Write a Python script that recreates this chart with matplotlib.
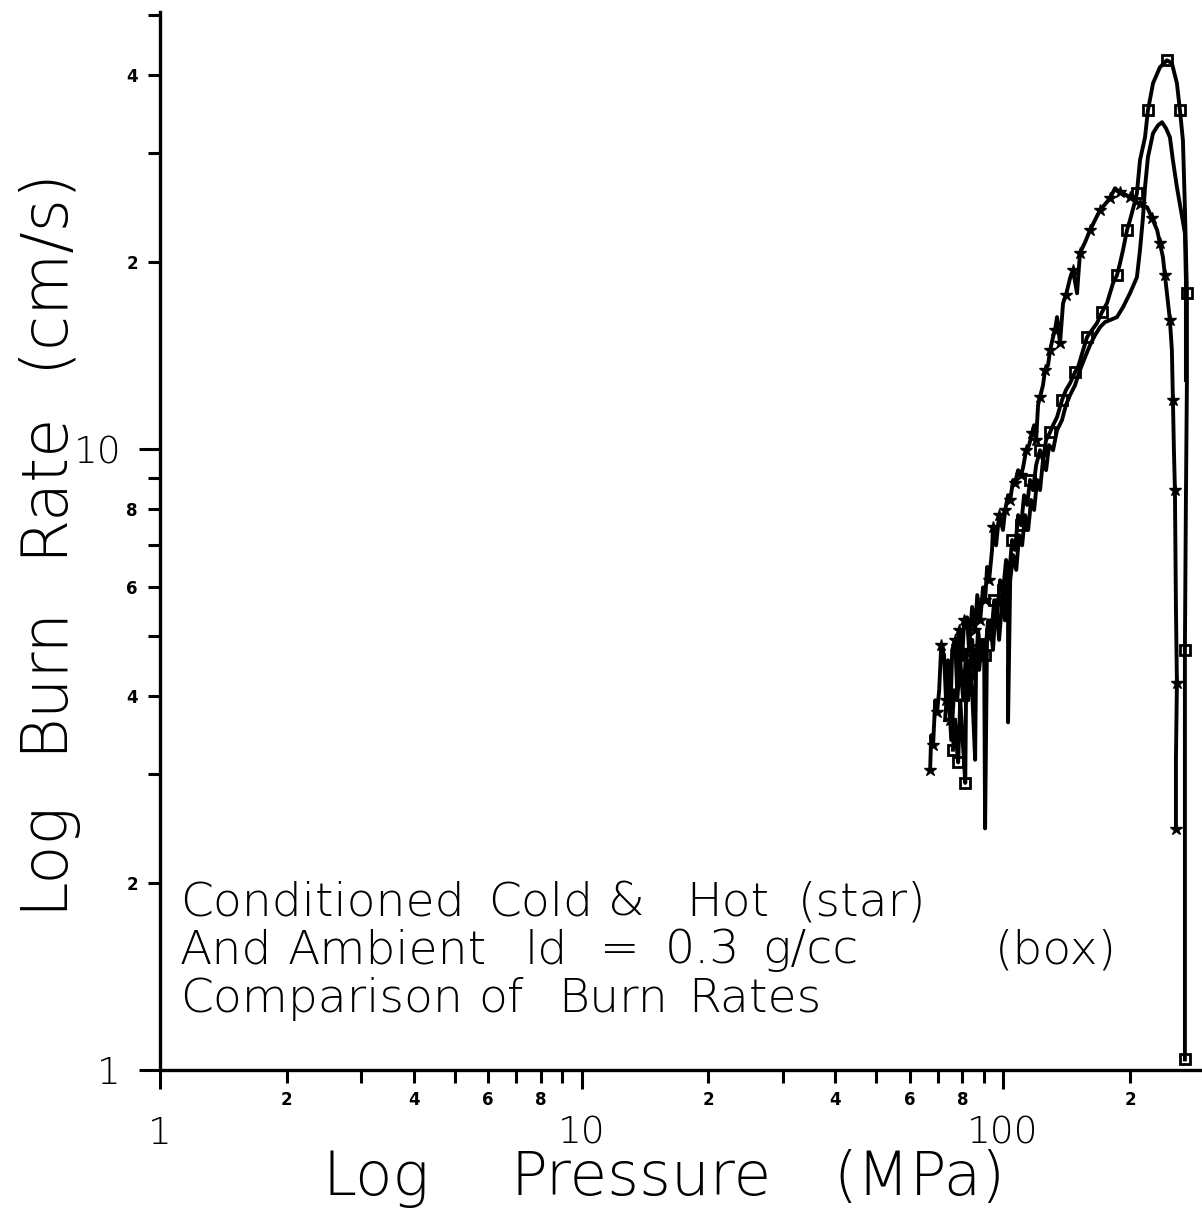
import matplotlib
matplotlib.use("Agg")
import matplotlib.pyplot as plt
from matplotlib.ticker import FixedLocator, FuncFormatter

# burn rate (cm/s) vs pressure (MPa)
# conditioned cold/hot charge, star markers
star_p = [67.1, 67.5, 68.2, 69.0, 69.7, 70.5, 71.3, 72.4, 73.2, 74.0, 74.9, 75.7, 76.9, 77.8,
          78.6, 79.9, 80.8, 82.1, 83.0, 84.4, 85.8, 86.8, 88.2, 89.6, 90.6, 91.6, 92.6, 94.1,
          94.6, 96.2, 97.8, 99.9, 101.1, 102.7, 103.9, 105.6, 106.7, 108.5, 110.3, 111.5, 113.4,
          115.2, 117.1, 118.4, 119.7, 121.0, 122.3, 124.3, 125.7, 127.8, 129.2, 131.3, 132.7,
          134.2, 136.4, 138.7, 140.9, 144.1, 146.4, 149.7, 152.1, 156.4, 160.7, 165.1, 169.7,
          174.4, 179.2, 184.2, 189.3, 194.5, 199.9, 205.4, 211.1, 219.5, 225.6, 231.9, 235.4,
          239.3, 241.9, 244.6, 248.6, 251.3, 252.7, 254.1, 255.5, 256.9, 258.3, 256.9, 256.9]
star_r = [3.04, 3.46, 3.34, 3.94, 3.77, 4.09, 4.83, 4.66, 3.94, 4.57, 3.66, 4.75, 4.93, 4.09,
          5.11, 4.57, 5.30, 5.36, 4.75, 5.57, 5.11, 5.82, 5.30, 5.99, 5.71, 6.46, 6.15, 6.88,
          7.49, 7.00, 7.83, 7.41, 7.98, 8.43, 8.28, 8.92, 8.82, 9.25, 9.08, 9.35, 9.96,
          10.15, 10.61, 10.93, 10.34, 11.78, 12.13, 12.68, 13.41, 13.66, 14.43, 15.15, 15.55,
          16.32, 14.82, 17.19, 17.70, 18.86, 19.42, 17.83, 20.69, 21.54, 22.52, 23.38, 24.26,
          24.80, 25.36, 26.32, 25.93, 25.74, 25.45, 25.18, 24.80, 24.53, 23.55, 22.52, 21.46,
          20.38, 19.06, 17.83, 16.14, 14.43, 12.00, 9.96, 8.59, 5.57, 4.20, 3.16, 2.44]

# ambient, ld = 0.3 g/cc, box markers
box_p = [76.0, 76.9, 77.8, 78.2, 79.1, 79.9, 81.3, 81.7, 82.6, 83.5, 84.4, 85.8, 86.3, 87.7,
         89.1, 90.6, 92.1, 93.6, 95.2, 96.7, 98.3, 100.0, 101.6, 103.3, 105.0, 106.7, 108.5,
         110.3, 112.1, 114.0, 115.8, 117.7, 119.7, 122.3, 124.3, 126.4, 129.2, 131.3, 134.2,
         137.9, 140.9, 144.1, 148.1, 150.5, 154.7, 158.1, 162.4, 166.9, 171.5, 176.3, 182.2,
         186.2, 189.3, 192.4, 196.6, 199.9, 204.3, 207.6, 211.1, 217.0, 220.5, 226.7, 235.4,
         244.6, 251.3, 258.3, 262.6, 266.9, 269.8, 272.8, 272.8, 271.3, 269.8, 269.8, 269.8, 269.8]
box_r = [3.28, 3.66, 3.25, 3.13, 3.94, 3.53, 2.90, 4.25, 3.94, 4.57, 4.09, 3.16, 4.75, 4.41,
         4.93, 4.66, 5.30, 4.93, 5.71, 5.40, 6.15, 5.93, 6.63, 6.27, 7.14, 6.88, 7.83,
         7.54, 8.43, 8.13, 8.92, 8.59, 9.42, 9.96, 9.60, 10.34, 10.65, 10.93, 11.26,
         12.00, 12.45, 12.77, 13.31, 13.55, 14.43, 15.15, 15.55, 15.96, 16.62, 17.19, 18.51,
         19.06, 19.93, 20.92, 22.52, 23.38, 24.71, 25.84, 29.20, 31.80, 35.14, 38.85, 41.22,
         42.31, 41.84, 38.85, 35.14, 31.45, 24.53, 17.83, 12.92, 8.28, 4.75, 2.72, 1.56, 1.04]

# plain trace (no markers)
line_p = [72.8, 74.0, 75.3, 76.5, 77.8, 79.1, 80.4, 81.7, 83.0, 84.4, 85.8, 87.2, 88.7, 90.1,
          90.6, 91.6, 93.1, 94.6, 96.2, 97.8, 99.9, 101.0, 102.7, 102.7, 103.9, 105.6, 107.4,
          109.1, 110.9, 112.7, 114.6, 116.5, 118.4, 120.4, 122.3, 124.3, 126.4, 128.5, 131.3,
          134.2, 137.9, 140.9, 144.1, 148.1, 152.1, 156.4, 160.7, 165.1, 169.7, 174.4, 179.2,
          186.2, 192.4, 199.9, 207.6, 211.1, 214.6, 217.0, 220.5, 226.7, 233.0, 238.1, 243.3,
          248.6, 252.7, 258.3, 264.8, 269.8, 271.3, 271.3]
line_r = [3.66, 4.25, 3.40, 4.09, 3.94, 4.57, 3.94, 4.75, 4.09, 4.93, 4.25, 5.11, 4.57, 4.93,
          2.45, 5.11, 5.30, 4.75, 5.71, 4.93, 5.93, 5.30, 6.39, 3.63, 6.15, 6.75, 6.39,
          7.27, 7.00, 7.83, 7.41, 8.28, 7.98, 8.92, 8.59, 9.60, 9.25, 10.15, 9.96,
          10.73, 11.14, 11.78, 12.22, 12.68, 13.41, 14.07, 14.71, 15.26, 15.72, 16.02, 16.14,
          16.32, 16.93, 17.83, 18.92, 20.92, 23.64, 26.42, 29.53, 32.28, 33.24, 33.62, 32.88,
          31.80, 29.20, 26.42, 23.99, 22.27, 18.72, 12.92]

x_major = [1, 10, 100]
x_minor = [2, 3, 4, 5, 6, 7, 8, 9, 20, 30, 40, 50, 60, 70, 80, 90, 200]
y_major = [1, 10]
y_minor = [2, 3, 4, 5, 6, 7, 8, 9, 20, 30, 40, 50]
labelled_minor = ["2", "4", "6", "8"]

# the old plotter spaced its words out, so each word gets its own spot (pixels)
xlabel_words = ["Log", "Pressure", "(MPa)"]
xlabel_x = [322, 510, 833]
ylabel_words = ["Log", "Burn", "Rate", "(cm/s)"]
ylabel_y = [910, 752, 556, 368]
note_lines = [["Conditioned", "Cold", "&", "Hot", "(star)"],
              ["And", "Ambient", "ld", "=", "0.3", "g/cc", "(box)"],
              ["Comparison", "of", "Burn", "Rates"]]
note_x = [[180, 488, 608, 686, 798],
          [180, 288, 525, 600, 665, 762, 995],
          [180, 478, 558, 688]]
note_base = [915, 963, 1012]

W, H = 1202, 1214
txt_font = ["DejaVu Sans"]

fig = plt.figure(figsize=(W / 100, H / 100), dpi=100)
ax = fig.add_axes([160 / W, 144 / H, 1040 / W, 1058 / H])

ax.plot(star_p, star_r, color="black", lw=2.8, marker="*", ms=9, markevery=2)
ax.plot(box_p, box_r, color="black", lw=2.8, marker="s", ms=7, mfc="none", mew=2,
        markevery=3)
ax.plot(line_p, line_r, color="black", lw=2.8)

ax.set_xscale("log")
ax.set_yscale("log")
ax.set_xlim(1, 293)
ax.set_ylim(1, 50.6)

for s in ["top", "right"]:
    ax.spines[s].set_visible(False)
for s in ["left", "bottom"]:
    ax.spines[s].set_linewidth(2.4)


def minor_fmt(v, pos):
    s = "%g" % v
    return s[0] if s[0] in labelled_minor else ""


ax.xaxis.set_major_locator(FixedLocator(x_major))
ax.xaxis.set_minor_locator(FixedLocator(x_minor))
ax.yaxis.set_major_locator(FixedLocator(y_major))
ax.yaxis.set_minor_locator(FixedLocator(y_minor))
ax.xaxis.set_major_formatter(FuncFormatter(lambda v, p: "%g" % v))
ax.yaxis.set_major_formatter(FuncFormatter(lambda v, p: "%g" % v))
ax.xaxis.set_minor_formatter(FuncFormatter(minor_fmt))
ax.yaxis.set_minor_formatter(FuncFormatter(minor_fmt))

ax.tick_params(axis="x", which="major", length=14, width=2.2, pad=19, labelsize=27)
ax.tick_params(axis="x", which="minor", length=9, width=2.2, pad=6, labelsize=12)
ax.tick_params(axis="y", which="major", length=15, width=2.2, pad=13, labelsize=27)
ax.tick_params(axis="y", which="minor", length=9, width=2.2, pad=7, labelsize=12)
for t in ax.xaxis.get_minorticklabels() + ax.yaxis.get_minorticklabels():
    t.set_fontweight("bold")
for t in ax.xaxis.get_majorticklabels() + ax.yaxis.get_majorticklabels():
    t.set_fontweight("light")

for word, x in zip(xlabel_words, xlabel_x):
    fig.text(x / W, 1 - 1195 / H, word, ha="left", va="baseline", fontsize=44,
             family=txt_font, fontweight="light")
for word, y in zip(ylabel_words, ylabel_y):
    fig.text(60 / W, 1 - y / H, word, ha="left", va="baseline", rotation=90,
             rotation_mode="anchor", fontsize=46, family=txt_font, fontweight="light")

for words, xs, yb in zip(note_lines, note_x, note_base):
    for word, x in zip(words, xs):
        fig.text(x / W, 1 - yb / H, word, ha="left", va="baseline", fontsize=34,
                 family=txt_font, fontweight="light")

fig.savefig("out.png", dpi=100)
